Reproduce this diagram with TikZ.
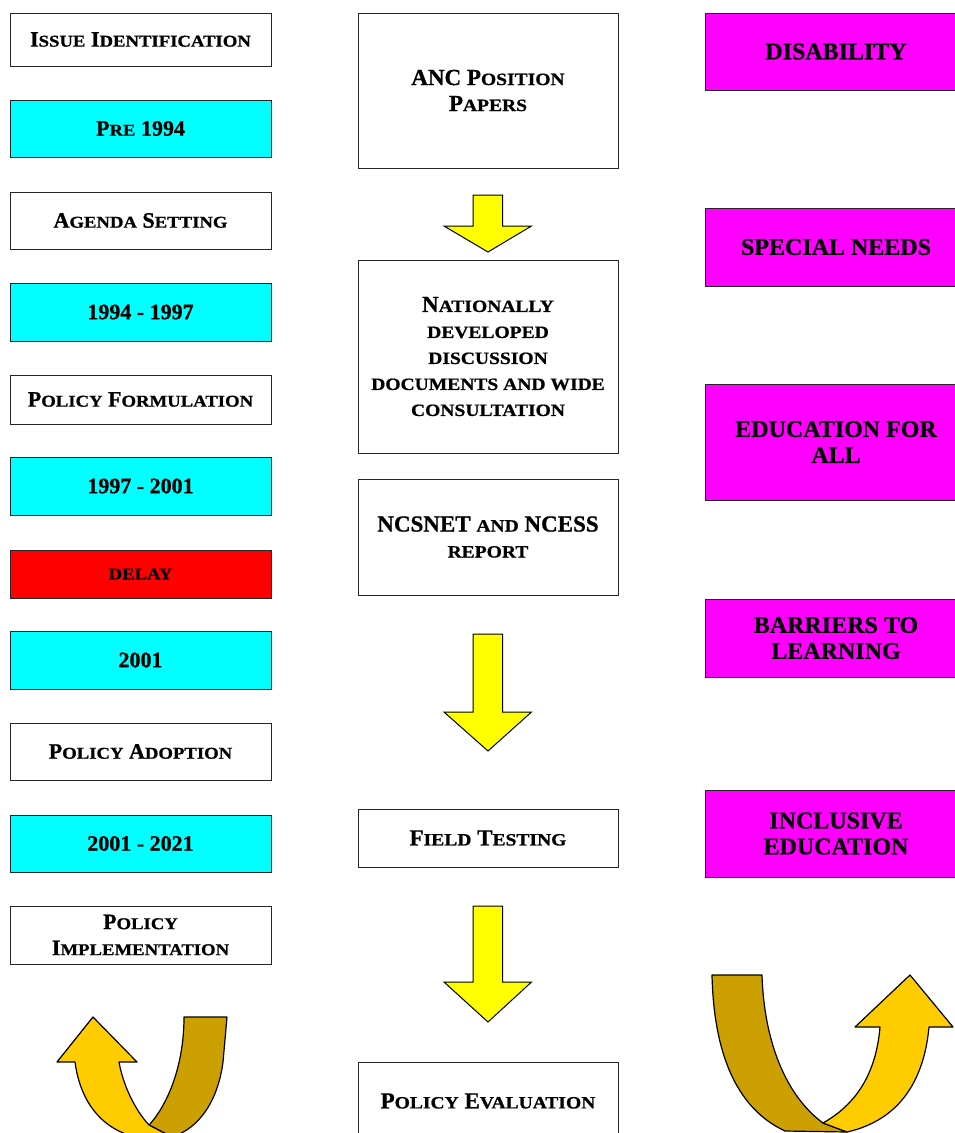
\documentclass[tikz,border=0pt]{standalone}
\usepackage{fontspec}
\setmainfont{Liberation Serif}[BoldFeatures={FakeBold=0.8}]
\usepackage{graphicx}
% faked small capitals: lower-case letters set as shrunken capitals
\newcommand\sm[1]{\scalebox{0.85}[0.75]{#1}}
\definecolor{pcyan}{RGB}{0,255,255}
\definecolor{pred}{RGB}{255,0,0}
\definecolor{pmag}{RGB}{255,0,255}
\definecolor{ayel}{RGB}{255,255,0}
\definecolor{goldlight}{RGB}{255,204,0}
\definecolor{goldshade}{RGB}{204,160,0}

\begin{document}
\begin{tikzpicture}[x=1pt,y=-1pt,
  box/.style={draw=black!85, line width=1pt, rectangle, inner sep=0pt, align=center,
              font=\bfseries\fontsize{22}{26}\selectfont},
  lbox/.style={box, minimum width=261pt},
  mbox/.style={box, minimum width=260pt, font=\bfseries\fontsize{23}{26}\selectfont},
  rbox/.style={box, minimum width=262pt, fill=pmag, font=\bfseries\fontsize{24}{26}\selectfont},
  blockdown/.style={fill=ayel, draw=black, line width=1pt, line join=miter},
  turnfront/.style={fill=goldlight, draw=black, line width=1.2pt, line join=round},
  turnback/.style={fill=goldshade, draw=black, line width=1.2pt, line join=round}]

\useasboundingbox (0,0) rectangle (955,1133);
\clip (0,0) rectangle (955,1133);

% ---- policy stages and periods (left column)
\node[lbox, minimum height=53pt] (issue) at (140.5,39.5) {I\sm{SSUE} I\sm{DENTIFICATION}};
\node[lbox, fill=pcyan, minimum height=57pt] (pre) at (140.5,128.5) {P\sm{RE} 1994};
\node[lbox, minimum height=57pt] (agenda) at (140.5,220.5) {A\sm{GENDA} S\sm{ETTING}};
\node[lbox, fill=pcyan, minimum height=58pt] (p9497) at (140.5,312) {1994 - 1997};
\node[lbox, minimum height=49pt] (formul) at (140.5,399.5) {P\sm{OLICY} F\sm{ORMULATION}};
\node[lbox, fill=pcyan, minimum height=58pt] (p9701) at (140.5,486) {1997 - 2001};
\node[lbox, fill=pred, minimum height=48pt] (delay) at (140.5,574) {\sm{DELAY}};
\node[lbox, fill=pcyan, minimum height=58pt] (p01) at (140.5,660) {2001};
\node[lbox, minimum height=57pt] (adopt) at (140.5,751.5) {P\sm{OLICY} A\sm{DOPTION}};
\node[lbox, fill=pcyan, minimum height=57pt] (p0121) at (140.5,843.5) {2001 - 2021};
\node[lbox, minimum height=58pt] (impl) at (140.5,935) {P\sm{OLICY}\\I\sm{MPLEMENTATION}};

% ---- documents and process (middle column)
\node[mbox, minimum height=155pt] (anc) at (488,90.5) {ANC P\sm{OSITION}\\P\sm{APERS}};
\node[mbox, minimum height=193pt] (natl) at (488,356.5)
  {N\sm{ATIONALLY}\\\sm{DEVELOPED}\\\sm{DISCUSSION}\\\sm{DOCUMENTS AND WIDE}\\\sm{CONSULTATION}};
\node[mbox, minimum height=116pt] (ncs) at (488,537) {NCSNET \sm{AND} NCESS\\\sm{REPORT}};
\node[mbox, minimum height=58pt] (field) at (488,838) {F\sm{IELD} T\sm{ESTING}};
\node[mbox, minimum height=78pt] (evalu) at (488,1101) {P\sm{OLICY} E\sm{VALUATION}};

% ---- terminology (right column)
\node[rbox, minimum height=77pt] (disab) at (836,51.5) {DISABILITY};
\node[rbox, minimum height=78pt] (special) at (836,247) {SPECIAL NEEDS};
\node[rbox, minimum height=116pt] (efa) at (836,442) {EDUCATION FOR\\ALL};
\node[rbox, minimum height=78pt] (barr) at (836,638) {BARRIERS TO\\LEARNING};
\node[rbox, minimum height=87pt] (incl) at (836,833.5) {INCLUSIVE\\EDUCATION};

% ---- yellow block arrows between the middle boxes
\draw[blockdown] (473,195) -- (502.5,195) -- (502.5,226) -- (531.5,226)
  -- (488,252) -- (444,226) -- (473,226) -- cycle;
\draw[blockdown] (473,634) -- (502.5,634) -- (502.5,712) -- (531.5,712)
  -- (488,751) -- (444,712) -- (473,712) -- cycle;
\draw[blockdown] (473,906) -- (502.5,906) -- (502.5,982) -- (531.5,982)
  -- (488,1022) -- (444,982) -- (473,982) -- cycle;

% ---- U-turn arrow, bottom left
\draw[turnback] (184,1017) -- (227,1017) -- (223,1062)
  .. controls (218,1100) and (200,1128) .. (172,1137) -- (149,1125)
  .. controls (165,1108) and (184,1070) .. (184,1017) -- cycle;
\draw[turnfront] (93,1017) -- (137,1062) -- (119,1062)
  .. controls (123,1085) and (135,1110) .. (149,1125) -- (172,1137) -- (135,1137)
  .. controls (100,1128) and (80,1100) .. (75,1062) -- (57,1062) -- cycle;

% ---- U-turn arrow, bottom right
\draw[turnback] (712,975) -- (762,975)
  .. controls (764,1040) and (785,1095) .. (823,1123) -- (847,1132) -- (785,1131)
  .. controls (740,1110) and (714,1060) .. (712,975) -- cycle;
\draw[turnfront] (910,975) -- (953,1027) -- (929,1027)
  .. controls (924,1080) and (900,1120) .. (847,1132) -- (823,1123)
  .. controls (855,1105) and (876,1075) .. (880,1027) -- (855,1027) -- cycle;
\end{tikzpicture}
\end{document}
